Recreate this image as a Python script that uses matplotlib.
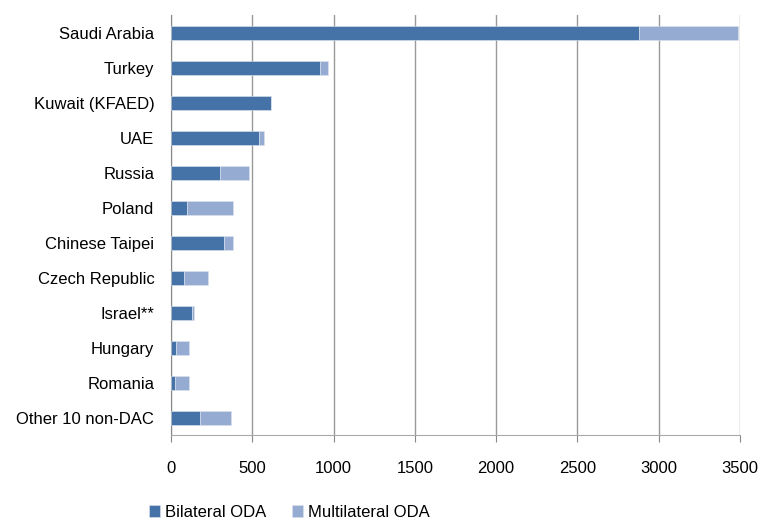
import matplotlib.pyplot as plt
import numpy as np

plt.rcParams['font.family'] = ['Liberation Sans', 'DejaVu Sans']

donors = ["Saudi Arabia", "Turkey", "Kuwait (KFAED)", "UAE", "Russia", "Poland",
          "Chinese Taipei", "Czech Republic", "Israel**", "Hungary", "Romania",
          "Other 10 non-DAC"]
bilateral = [2880, 915, 615, 540, 303, 98, 328, 79, 131, 29, 23, 178]
total = [3490, 965, 615, 575, 479, 384, 384, 226, 144, 112, 112, 371]
multilateral = [t - b for t, b in zip(total, bilateral)]

fig = plt.figure(figsize=(7.63, 5.2), dpi=100)
ax = fig.add_axes([171 / 763, 1 - 435 / 520, 569 / 763, 420 / 520])

y = np.arange(len(donors))
ax.barh(y, bilateral, height=0.4, color="#4573A7", edgecolor="#dde4f0", linewidth=0.4,
        label="Bilateral ODA", zorder=3)
ax.barh(y, multilateral, left=bilateral, height=0.4, color="#95ABD1", edgecolor="#dde4f0",
        linewidth=0.4, label="Multilateral ODA", zorder=3)

ax.set_ylim(len(donors) - 0.5, -0.5)
ax.set_xlim(0, 3500)
ax.set_xticks(range(0, 3501, 500))
ax.set_yticks(y)
ax.set_yticklabels(donors, fontsize=12)
ax.tick_params(axis="y", length=0, pad=12)
ax.tick_params(axis="x", labelsize=12, length=5, color="#888888", pad=14, direction="out")

ax.grid(axis="x", color="#999999", linewidth=1, zorder=0)
for s in ["top", "right"]:
    ax.spines[s].set_visible(False)
ax.spines["left"].set_color("#888888")
ax.spines["bottom"].set_color("#AAAAAA")

fig.legend(loc="lower left", bbox_to_anchor=(142 / 763, -0.012), ncol=2, frameon=False,
           fontsize=12, handlelength=0.7, handleheight=0.7, handletextpad=0.3,
           columnspacing=1.5, borderaxespad=0.0)

fig.savefig("out.png", dpi=100)
